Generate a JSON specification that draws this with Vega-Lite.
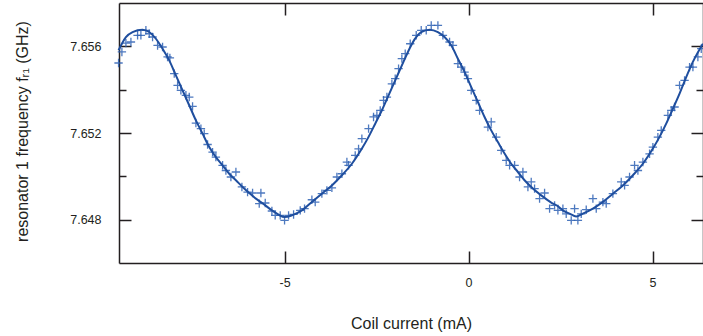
{
  "$schema": "https://vega.github.io/schema/vega-lite/v6.json",
  "width": 584,
  "height": 260,
  "autosize": "none",
  "padding": {"left": 119, "top": 3, "right": 0, "bottom": 73},
  "background": "white",
  "config": {
    "view": {"stroke": null},
    "font": "Liberation Sans",
    "axis": {
      "grid": false,
      "domainColor": "#231f20",
      "domainWidth": 1.5,
      "tickColor": "#231f20",
      "tickWidth": 1.5,
      "labelFont": "Liberation Sans",
      "labelFontSize": 12.5,
      "labelColor": "#231f20",
      "titleFont": "Liberation Sans",
      "titleFontSize": 16,
      "titleFontWeight": "normal",
      "titleColor": "#231f20"
    }
  },
  "datasets": {
    "fit": [
      {"I": -9.512, "f": 7.65582}, {"I": -9.312, "f": 7.65643}, {"I": -9.131, "f": 7.65666}, {"I": -8.86, "f": 7.65677},
      {"I": -8.678, "f": 7.65666}, {"I": -8.497, "f": 7.65635}, {"I": -8.316, "f": 7.65589}, {"I": -8.135, "f": 7.65535},
      {"I": -7.954, "f": 7.65466}, {"I": -7.773, "f": 7.65397}, {"I": -7.592, "f": 7.65328}, {"I": -7.41, "f": 7.65258},
      {"I": -7.229, "f": 7.65197}, {"I": -7.048, "f": 7.65135}, {"I": -6.867, "f": 7.65089}, {"I": -6.686, "f": 7.65051},
      {"I": -6.505, "f": 7.65012}, {"I": -6.323, "f": 7.64982}, {"I": -6.141, "f": 7.64951}, {"I": -5.961, "f": 7.64923},
      {"I": -5.78, "f": 7.64897}, {"I": -5.617, "f": 7.64878}, {"I": -5.345, "f": 7.64843}, {"I": -5.164, "f": 7.64823},
      {"I": -5.001, "f": 7.64812}, {"I": -4.802, "f": 7.6482}, {"I": -4.53, "f": 7.64843}, {"I": -4.258, "f": 7.64882},
      {"I": -3.986, "f": 7.6492}, {"I": -3.715, "f": 7.64958}, {"I": -3.443, "f": 7.65005}, {"I": -3.171, "f": 7.65058},
      {"I": -2.899, "f": 7.65128}, {"I": -2.718, "f": 7.65182}, {"I": -2.537, "f": 7.65243}, {"I": -2.356, "f": 7.65305},
      {"I": -2.175, "f": 7.65374}, {"I": -1.994, "f": 7.65443}, {"I": -1.813, "f": 7.65512}, {"I": -1.649, "f": 7.65574},
      {"I": -1.468, "f": 7.65632}, {"I": -1.287, "f": 7.65666}, {"I": -1.061, "f": 7.65677}, {"I": -0.834, "f": 7.65666},
      {"I": -0.653, "f": 7.65643}, {"I": -0.472, "f": 7.65605}, {"I": -0.291, "f": 7.65543}, {"I": -0.11, "f": 7.65482},
      {"I": 0.072, "f": 7.65412}, {"I": 0.253, "f": 7.65343}, {"I": 0.434, "f": 7.65274}, {"I": 0.615, "f": 7.65212},
      {"I": 0.796, "f": 7.65158}, {"I": 0.977, "f": 7.65105}, {"I": 1.158, "f": 7.65058}, {"I": 1.34, "f": 7.6502},
      {"I": 1.521, "f": 7.64982}, {"I": 1.702, "f": 7.64951}, {"I": 1.974, "f": 7.64912}, {"I": 2.245, "f": 7.64879},
      {"I": 2.427, "f": 7.64862}, {"I": 2.563, "f": 7.64843}, {"I": 2.744, "f": 7.64828}, {"I": 2.925, "f": 7.64815},
      {"I": 3.106, "f": 7.64828}, {"I": 3.378, "f": 7.64851}, {"I": 3.649, "f": 7.64882}, {"I": 3.921, "f": 7.6492},
      {"I": 4.193, "f": 7.64958}, {"I": 4.465, "f": 7.65005}, {"I": 4.736, "f": 7.65058}, {"I": 5.008, "f": 7.65128},
      {"I": 5.189, "f": 7.65182}, {"I": 5.37, "f": 7.65243}, {"I": 5.552, "f": 7.65312}, {"I": 5.733, "f": 7.65382},
      {"I": 5.914, "f": 7.65458}, {"I": 6.095, "f": 7.65528}, {"I": 6.367, "f": 7.65612}
    ],
    "meas": [
      {"I": -9.512, "f": 7.65523}, {"I": -9.421, "f": 7.65574}, {"I": -9.312, "f": 7.65615}, {"I": -9.176, "f": 7.6562},
      {"I": -8.995, "f": 7.65651}, {"I": -8.905, "f": 7.65651}, {"I": -8.769, "f": 7.65674}, {"I": -8.678, "f": 7.65658},
      {"I": -8.588, "f": 7.65643}, {"I": -8.452, "f": 7.65604}, {"I": -8.316, "f": 7.65597}, {"I": -8.18, "f": 7.65551},
      {"I": -8.117, "f": 7.65547}, {"I": -7.999, "f": 7.65474}, {"I": -7.908, "f": 7.6542}, {"I": -7.818, "f": 7.65397},
      {"I": -7.682, "f": 7.65374}, {"I": -7.591, "f": 7.65366}, {"I": -7.501, "f": 7.65323}, {"I": -7.41, "f": 7.65246},
      {"I": -7.274, "f": 7.6522}, {"I": -7.184, "f": 7.65197}, {"I": -7.093, "f": 7.65147}, {"I": -6.957, "f": 7.65112},
      {"I": -6.867, "f": 7.65089}, {"I": -6.685, "f": 7.65051}, {"I": -6.595, "f": 7.65027}, {"I": -6.459, "f": 7.64997},
      {"I": -6.323, "f": 7.6502}, {"I": -6.16, "f": 7.64951}, {"I": -6.006, "f": 7.64927}, {"I": -5.87, "f": 7.64923},
      {"I": -5.689, "f": 7.64874}, {"I": -5.644, "f": 7.64923}, {"I": -5.526, "f": 7.64877}, {"I": -5.345, "f": 7.6484},
      {"I": -5.255, "f": 7.6482}, {"I": -5.119, "f": 7.6482}, {"I": -5.001, "f": 7.64797}, {"I": -4.892, "f": 7.6482},
      {"I": -4.756, "f": 7.64824}, {"I": -4.575, "f": 7.64843}, {"I": -4.458, "f": 7.64851}, {"I": -4.258, "f": 7.64892},
      {"I": -4.168, "f": 7.64881}, {"I": -3.987, "f": 7.6492}, {"I": -3.851, "f": 7.64935}, {"I": -3.715, "f": 7.64947},
      {"I": -3.579, "f": 7.64997}, {"I": -3.443, "f": 7.65012}, {"I": -3.307, "f": 7.65066}, {"I": -3.262, "f": 7.65051},
      {"I": -3.081, "f": 7.65097}, {"I": -2.99, "f": 7.65127}, {"I": -2.9, "f": 7.65174}, {"I": -2.718, "f": 7.6522},
      {"I": -2.583, "f": 7.65274}, {"I": -2.492, "f": 7.65281}, {"I": -2.401, "f": 7.65304}, {"I": -2.311, "f": 7.65351},
      {"I": -2.22, "f": 7.65366}, {"I": -2.084, "f": 7.65427}, {"I": -1.994, "f": 7.65451}, {"I": -1.903, "f": 7.65497},
      {"I": -1.813, "f": 7.65543}, {"I": -1.722, "f": 7.65566}, {"I": -1.586, "f": 7.65612}, {"I": -1.423, "f": 7.65651},
      {"I": -1.287, "f": 7.65674}, {"I": -1.151, "f": 7.65674}, {"I": -1.015, "f": 7.65697}, {"I": -0.834, "f": 7.65697},
      {"I": -0.698, "f": 7.65651}, {"I": -0.517, "f": 7.6562}, {"I": -0.426, "f": 7.65604}, {"I": -0.29, "f": 7.6552},
      {"I": -0.2, "f": 7.65504}, {"I": -0.109, "f": 7.65481}, {"I": -0.019, "f": 7.65451}, {"I": 0.072, "f": 7.65397},
      {"I": 0.208, "f": 7.65351}, {"I": 0.299, "f": 7.65304}, {"I": 0.525, "f": 7.65227}, {"I": 0.615, "f": 7.65251},
      {"I": 0.751, "f": 7.65181}, {"I": 0.887, "f": 7.6512}, {"I": 1.023, "f": 7.65074}, {"I": 1.114, "f": 7.65051},
      {"I": 1.25, "f": 7.65051}, {"I": 1.385, "f": 7.64997}, {"I": 1.476, "f": 7.6502}, {"I": 1.612, "f": 7.64951},
      {"I": 1.702, "f": 7.64974}, {"I": 1.793, "f": 7.64943}, {"I": 1.929, "f": 7.64897}, {"I": 2.065, "f": 7.64923},
      {"I": 2.201, "f": 7.64851}, {"I": 2.337, "f": 7.64866}, {"I": 2.427, "f": 7.64843}, {"I": 2.563, "f": 7.64851},
      {"I": 2.653, "f": 7.64827}, {"I": 2.789, "f": 7.64797}, {"I": 2.88, "f": 7.64851}, {"I": 2.97, "f": 7.64797},
      {"I": 3.061, "f": 7.64827}, {"I": 3.197, "f": 7.64846}, {"I": 3.378, "f": 7.64897}, {"I": 3.469, "f": 7.64851},
      {"I": 3.65, "f": 7.64881}, {"I": 3.74, "f": 7.64874}, {"I": 3.921, "f": 7.6492}, {"I": 4.148, "f": 7.64974},
      {"I": 4.239, "f": 7.64958}, {"I": 4.374, "f": 7.64997}, {"I": 4.51, "f": 7.65051}, {"I": 4.601, "f": 7.65027},
      {"I": 4.737, "f": 7.65066}, {"I": 4.918, "f": 7.65104}, {"I": 5.008, "f": 7.65135}, {"I": 5.144, "f": 7.65181},
      {"I": 5.235, "f": 7.65212}, {"I": 5.416, "f": 7.65281}, {"I": 5.507, "f": 7.65304}, {"I": 5.597, "f": 7.6532},
      {"I": 5.733, "f": 7.6542}, {"I": 5.869, "f": 7.65443}, {"I": 6.005, "f": 7.65504}, {"I": 6.096, "f": 7.65504},
      {"I": 6.231, "f": 7.65551}, {"I": 6.322, "f": 7.65589}
    ]
  },
  "layer": [
    {
      "data": {"name": "meas"},
      "mark": {"type": "point", "shape": "M-1,0H1M0,-1V1", "size": 70, "filled": false, "stroke": "#2f62b5", "strokeWidth": 1.3, "opacity": 0.85},
      "encoding": {
        "x": {"field": "I", "type": "quantitative", "scale": {"domain": [-9.5, 6.37], "nice": false, "zero": false},
          "axis": {"orient": "top", "values": [-5, 0, 5], "tickSize": -12, "labels": false, "title": null}},
        "y": {"field": "f", "type": "quantitative", "scale": {"domain": [7.646, 7.658], "nice": false, "zero": false},
          "axis": {"orient": "right", "values": [7.648, 7.65, 7.652, 7.654, 7.656], "labels": false, "title": null,
            "tickSize": {"condition": {"test": "abs(datum.value - 7.65) < 0.0001 || abs(datum.value - 7.654) < 0.0001", "value": -7}, "value": -12}}}
      }
    },
    {
      "data": {"name": "fit"},
      "mark": {"type": "line", "color": "#1f4e9e", "strokeWidth": 2, "interpolate": "monotone"},
      "encoding": {
        "x": {"field": "I", "type": "quantitative", "scale": {"domain": [-9.5, 6.37], "nice": false, "zero": false},
          "axis": {"orient": "bottom", "values": [-5, 0, 5], "tickSize": -12, "labelPadding": 25, "labelBaseline": "top",
            "labelExpr": "datum.value < 0 ? '-' + abs(datum.value) : '' + datum.value",
            "title": "Coil current (mA)", "titleBaseline": "middle", "titleY": 60}},
        "y": {"field": "f", "type": "quantitative", "scale": {"domain": [7.646, 7.658], "nice": false, "zero": false},
          "axis": {"orient": "left", "values": [7.648, 7.65, 7.652, 7.654, 7.656],
            "tickSize": {"condition": {"test": "abs(datum.value - 7.65) < 0.0001 || abs(datum.value - 7.654) < 0.0001", "value": -7}, "value": -12},
            "labelPadding": 30,
            "labelExpr": "(abs(datum.value - 7.65) < 0.0001 || abs(datum.value - 7.654) < 0.0001) ? '' : format(datum.value, '.3f')",
            "title": "resonator 1 frequency fᵣ₁ (GHz)", "titleBaseline": "middle", "titleX": -97, "titleY": 128}}
      }
    }
  ],
  "resolve": {"axis": {"x": "independent", "y": "independent"}}
}
